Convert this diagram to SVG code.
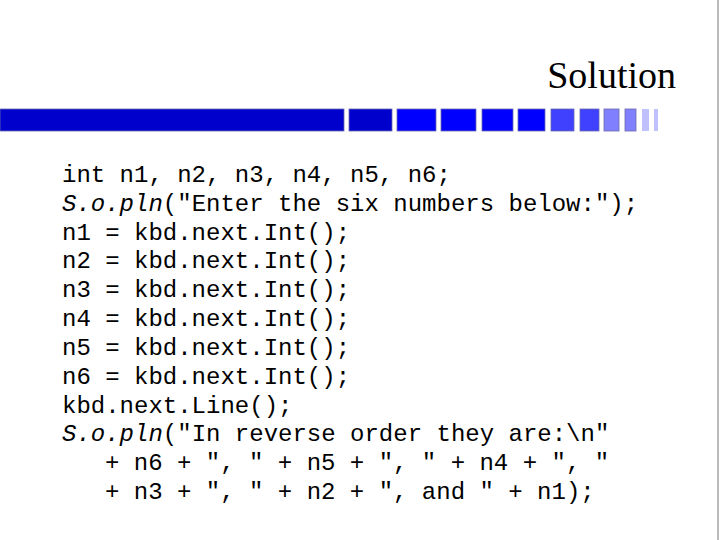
<svg xmlns="http://www.w3.org/2000/svg" width="720" height="540" viewBox="0 0 720 540">
<style>
.c{font-family:"Liberation Mono",monospace;font-size:24px;fill:#000;white-space:pre}
.b{stroke:#6a6ab0;stroke-width:0.8}
</style>
<rect width="720" height="540" fill="#fff"/>
<line x1="718" y1="0" x2="718" y2="540" stroke="#bbb" stroke-width="2"/>
<text x="676" y="88" text-anchor="end" font-family="Liberation Serif,serif" font-size="38">Solution</text>
<g class="b">
<rect x="0" y="109" width="344" height="22" fill="#0000cc"/>
<rect x="349" y="109" width="43" height="22" fill="#0000cc"/>
<rect x="397" y="109" width="39" height="22" fill="#0000ff"/>
<rect x="441" y="109" width="35" height="22" fill="#0000ff"/>
<rect x="482" y="109" width="31" height="22" fill="#0000ff"/>
<rect x="518" y="109" width="27" height="22" fill="#0000ff"/>
<rect x="551" y="109" width="23" height="22" fill="#4040ff"/>
<rect x="580" y="109" width="19" height="22" fill="#4040ff"/>
<rect x="604" y="109" width="15" height="22" fill="#8080ff"/>
<rect x="625" y="109" width="11" height="22" fill="#8080ff"/>
<rect x="642" y="109" width="7" height="22" fill="#c0c0ff" stroke="none"/>
<rect x="654" y="109" width="4" height="22" fill="#c0c0ff" stroke="none"/>
</g>
<g class="c">
<text x="62" y="182">int n1, n2, n3, n4, n5, n6;</text>
<text x="62" y="211"><tspan font-style="italic">S.o.pln</tspan>("Enter the six numbers below:");</text>
<text x="62" y="240">n1 = kbd.next.Int();</text>
<text x="62" y="268">n2 = kbd.next.Int();</text>
<text x="62" y="297">n3 = kbd.next.Int();</text>
<text x="62" y="326">n4 = kbd.next.Int();</text>
<text x="62" y="355">n5 = kbd.next.Int();</text>
<text x="62" y="384">n6 = kbd.next.Int();</text>
<text x="62" y="413">kbd.next.Line();</text>
<text x="62" y="441"><tspan font-style="italic">S.o.pln</tspan>("In reverse order they are:\n"</text>
<text x="105" y="470">+ n6 + ", " + n5 + ", " + n4 + ", "</text>
<text x="105" y="499">+ n3 + ", " + n2 + ", and " + n1);</text>
</g>
</svg>
